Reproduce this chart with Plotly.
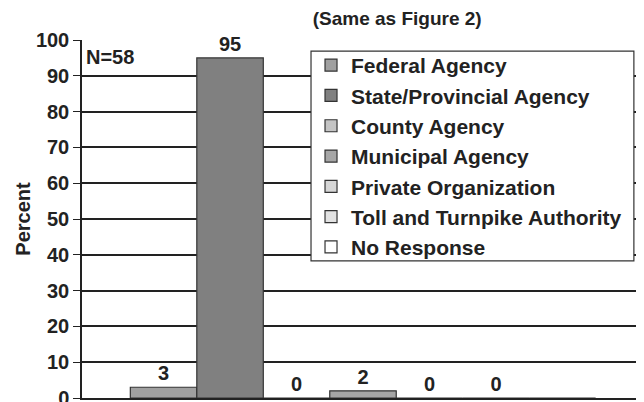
import plotly.graph_objects as go

categories = ["Federal Agency", "State/Provincial Agency", "County Agency",
              "Municipal Agency", "Private Organization",
              "Toll and Turnpike Authority", "No Response"]
values = [3, 95, 0, 2, 0, 0, 0]
labels = ["3", "95", "0", "2", "0", "0", ""]
colors = ["#a0a0a0", "#808080", "#c4c4c4", "#a6a6a6", "#d6d6d6", "#e2e2e2", "#ffffff"]
y_ticks = [0, 10, 20, 30, 40, 50, 60, 70, 80, 90, 100]

FONT = "Liberation Sans, Arial, sans-serif"
INK = "#222222"

fig = go.Figure()
for name, v, lab, c in zip(categories, values, labels, colors):
    fig.add_trace(go.Bar(
        x=[""], y=[v], name=name, text=[lab], textposition="outside",
        marker=dict(color=c, line=dict(color="#333333", width=1.2)),
        textfont=dict(family=FONT, size=20, color=INK, weight="bold"),
        cliponaxis=False, legendgroup=name,
    ))

fig.update_layout(
    width=636, height=394,
    margin=dict(l=74, r=0, t=32, b=4, autoexpand=False),
    paper_bgcolor="white", plot_bgcolor="white",
    barmode="group", bargap=0.172, bargroupgap=0,
    font=dict(family=FONT, color=INK, weight="bold"),
    title=dict(text="(Same as Figure 2)", x=0.612, xanchor="center", y=0.975, yanchor="middle",
               font=dict(family=FONT, size=19, color=INK, weight="bold")),
    showlegend=True,
    legend=dict(x=0.4075, y=0.986, xanchor="left", yanchor="top",
                bgcolor="rgba(0,0,0,0)", borderwidth=0,
                font=dict(family=FONT, size=21, color=INK, weight="bold"),
                tracegroupgap=2, traceorder="normal", itemwidth=30),
    shapes=[dict(type="rect", xref="paper", yref="paper", x0=0.4075, x1=0.982,
                 y0=0.383, y1=0.969, fillcolor="white",
                 line=dict(color="#333333", width=1.2), layer="above")],
    xaxis=dict(showticklabels=False, showline=True, linecolor=INK, linewidth=1.5,
               ticks="", showgrid=False, zeroline=False, automargin=False),
    yaxis=dict(range=[0, 100], tickvals=y_ticks, showline=True, linecolor=INK,
               linewidth=1.5, ticks="outside", ticklen=7, tickcolor=INK,
               showgrid=True, gridcolor=INK, gridwidth=1.5, zeroline=False,
               ticklabeloverflow="allow", automargin=False,
               tickfont=dict(family=FONT, size=20, color=INK, weight="bold"),
               title=dict(text="Percent", standoff=0,
                          font=dict(family=FONT, size=20, color=INK, weight="bold"))),
    annotations=[dict(text="N=58", xref="paper", yref="paper", x=0.003, y=0.99,
                      xanchor="left", yanchor="top", showarrow=False,
                      font=dict(family=FONT, size=20, color=INK, weight="bold"))],
)

fig.write_html("out.html")
